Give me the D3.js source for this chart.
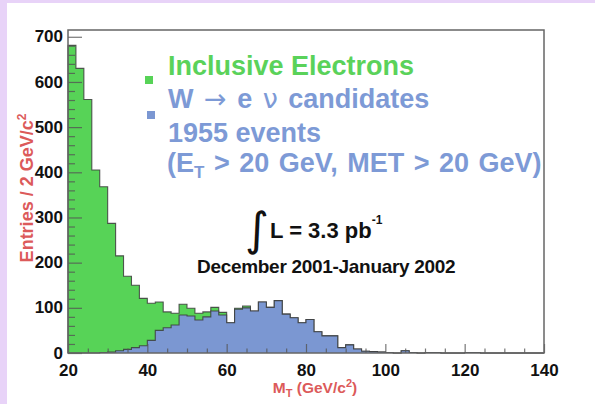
<!DOCTYPE html>
<html>
<head>
<meta charset="utf-8">
<script src="https://cdn.jsdelivr.net/npm/d3@7"></script>
<style>
  html, body { margin: 0; padding: 0; background: #e8d3f8; }
  svg { display: block; }
  text { font-family: "Liberation Sans", Arial, Helvetica, sans-serif; }
</style>
</head>
<body>
<svg id="chart" width="595" height="404"></svg>
<script>
// Histogram binning (GeV/c^2)
const binStart = 20;
const binWidth = 2;

// Inclusive electron M_T spectrum, entries per 2 GeV/c^2 bin (20 - 140)
const inclusive = [
  681, 630, 561, 405, 368, 287, 215, 170, 150, 121,
  110, 113, 91, 88, 108, 99, 88, 91, 101, 90,
  67, 99, 104, 93, 113, 101, 116, 86, 78, 67,
  74, 47, 38, 38, 12, 18, 9, 4, 3, 2,
  1, 0, 5, 1, 0, 1, 1, 0, 0, 0,
  1, 1, 0, 0, 0, 0, 0, 0, 0, 0
];

// W -> e nu candidates, same binning
const wCandidates = [
  0, 0, 0, 0, 1, 2, 5, 8, 12, 16,
  28, 50, 56, 62, 84, 82, 73, 80, 93, 84,
  67, 97, 100, 93, 113, 101, 116, 86, 78, 67,
  74, 47, 38, 38, 12, 18, 9, 4, 3, 2,
  1, 0, 5, 1, 0, 1, 1, 0, 0, 0,
  1, 1, 0, 0, 0, 0, 0, 0, 0, 0
];

// Axis ticks
const xMajorTicks = [20, 40, 60, 80, 100, 120, 140];
const xMinorTicks = [25, 30, 35, 45, 50, 55, 65, 70, 75, 85, 90, 95, 105, 110, 115, 125, 130, 135];
const yMajorTicks = [0, 100, 200, 300, 400, 500, 600, 700];
const yMinorTicks = [20, 40, 60, 80, 120, 140, 160, 180, 220, 240, 260, 280, 320, 340, 360, 380,
                     420, 440, 460, 480, 520, 540, 560, 580, 620, 640, 660, 680];

const colors = {
  green: "#57d357",
  blue: "#7b97d2",
  greenText: "#5ad25a",
  blueText: "#7d9ad6",
  title: "#dc5a5a",
  frame: "#666666",
  outline: "#3c3c3c"
};

const svg = d3.select("#chart");

// white panel
svg.append("rect").attr("x", 7).attr("y", 3).attr("width", 588).attr("height", 401).attr("fill", "#ffffff");

const plot = { left: 68, right: 544, top: 30, bottom: 353 };

const x = d3.scaleLinear().domain([20, 140]).range([plot.left, plot.right]);
const y = d3.scaleLinear().domain([0, 715]).range([plot.bottom, plot.top]);

// step outline points for a binned series
function stepPoints(values) {
  const pts = [];
  values.forEach((v, i) => {
    const lo = binStart + i * binWidth;
    pts.push({ x: lo, v: v });
    pts.push({ x: lo + binWidth, v: v });
  });
  return pts;
}

const area = d3.area()
  .x(d => x(d.x))
  .y0(y(0))
  .y1(d => y(d.v));

const line = d3.line()
  .x(d => x(d.x))
  .y(d => y(d.v));

function drawHist(values, fill) {
  const pts = stepPoints(values);
  svg.append("path").datum(pts).attr("d", area).attr("fill", fill);
  const outline = [{ x: binStart, v: 0 }].concat(pts);
  svg.append("path").datum(outline).attr("d", line)
    .attr("fill", "none").attr("stroke", colors.outline)
    .attr("stroke-width", 1.1).attr("stroke-opacity", 0.85);
}

drawHist(inclusive, colors.green);
drawHist(wCandidates, colors.blue);

// axes (ticks pointing inward)
const yMajor = d3.axisLeft(y).tickValues(yMajorTicks).tickSize(-14).tickPadding(5).tickFormat(d3.format("d"));
const yMinor = d3.axisLeft(y).tickValues(yMinorTicks).tickSize(-7).tickFormat("");
const xMajor = d3.axisBottom(x).tickValues(xMajorTicks).tickSize(-9).tickPadding(11.4).tickFormat(d3.format("d"));
const xMinor = d3.axisBottom(x).tickValues(xMinorTicks).tickSize(-4.5).tickFormat("");

function styleAxis(g) {
  g.select(".domain").remove();
  g.selectAll(".tick line").attr("stroke", "#555").attr("stroke-width", 1.2).attr("stroke-opacity", 0.8);
  g.selectAll(".tick text")
    .attr("fill", "#111")
    .style("font-size", "17px")
    .style("font-weight", "bold");
}

svg.append("g").attr("transform", `translate(${plot.left},0)`).call(yMinor).call(styleAxis);
svg.append("g").attr("transform", `translate(${plot.left},0)`).call(yMajor).call(styleAxis)
  .selectAll(".tick text").attr("dy", "0.3em");
svg.append("g").attr("transform", `translate(0,${plot.bottom})`).call(xMinor).call(styleAxis);
svg.append("g").attr("transform", `translate(0,${plot.bottom})`).call(xMajor).call(styleAxis);

// frame
svg.append("rect")
  .attr("x", plot.left).attr("y", plot.top)
  .attr("width", plot.right - plot.left).attr("height", plot.bottom - plot.top)
  .attr("fill", "none").attr("stroke", colors.frame).attr("stroke-width", 1.5);

// axis titles
const yTitle = svg.append("text")
  .attr("transform", "translate(33,188) rotate(-90)")
  .attr("text-anchor", "middle")
  .attr("fill", colors.title)
  .style("font-size", "18px").style("font-weight", "bold");
yTitle.append("tspan").text("Entries / 2 GeV/c");
yTitle.append("tspan").attr("dy", -7).style("font-size", "12px").text("2");

const xTitle = svg.append("text")
  .attr("x", 315).attr("y", 393)
  .attr("text-anchor", "middle")
  .attr("fill", colors.title)
  .style("font-size", "15.5px").style("font-weight", "bold");
xTitle.append("tspan").text("M");
xTitle.append("tspan").attr("dy", 4).style("font-size", "11px").text("T");
xTitle.append("tspan").attr("dy", -4).text(" (GeV/c");
xTitle.append("tspan").attr("dy", -6).style("font-size", "11px").text("2");
xTitle.append("tspan").attr("dy", 6).text(")");

// legend
svg.append("rect").attr("x", 145).attr("y", 76).attr("width", 8).attr("height", 8).attr("fill", colors.green);
svg.append("rect").attr("x", 147).attr("y", 111).attr("width", 8).attr("height", 8).attr("fill", colors.blue);

const legendFont = "27px";
svg.append("text").attr("x", 168).attr("y", 75)
  .attr("fill", colors.greenText).style("font-size", legendFont).style("font-weight", "bold")
  .text("Inclusive Electrons");

const l2 = svg.append("text").attr("x", 168).attr("y", 108)
  .attr("fill", colors.blueText).style("font-size", legendFont).style("font-weight", "bold")
  .style("word-spacing", "3px");
l2.append("tspan").text("W ");
l2.append("tspan").style("font-weight", "normal").style("font-family", "DejaVu Sans").text("\u2192");
l2.append("tspan").text(" e ");
l2.append("tspan").style("font-weight", "normal").style("font-family", "DejaVu Sans").text("\u03bd");
l2.append("tspan").text(" candidates");

svg.append("text").attr("x", 168).attr("y", 142)
  .attr("fill", colors.blueText).style("font-size", legendFont).style("font-weight", "bold")
  .text("1955 events");

const l4 = svg.append("text").attr("x", 167).attr("y", 172)
  .attr("fill", colors.blueText).style("font-size", legendFont).style("font-weight", "bold")
  .style("word-spacing", "2px");
l4.append("tspan").text("(E");
l4.append("tspan").attr("dy", 6).style("font-size", "17px").text("T");
l4.append("tspan").attr("dy", -6).text(" > 20 GeV, MET > 20 GeV)");

// luminosity annotation
svg.append("text").attr("x", 245).attr("y", 245)
  .attr("fill", "#111").style("font-size", "46px").style("font-family", "DejaVu Sans")
  .text("\u222b");

const lum = svg.append("text").attr("x", 270).attr("y", 238)
  .attr("fill", "#111").style("font-size", "22px").style("font-weight", "bold");
lum.append("tspan").text("L = 3.3 pb");
lum.append("tspan").attr("dy", -14).style("font-size", "12px").text("-1");

svg.append("text").attr("x", 197).attr("y", 273)
  .attr("fill", "#111").style("font-size", "19px").style("font-weight", "bold")
  .style("letter-spacing", "-0.3px")
  .text("December 2001-January 2002");
</script>
</body>
</html>
